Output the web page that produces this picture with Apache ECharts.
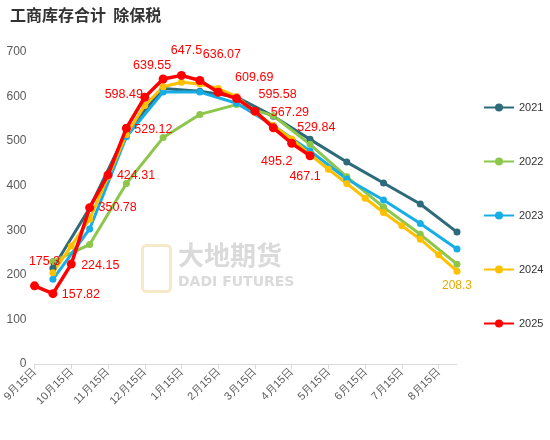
<!DOCTYPE html>
<html>
<head>
<meta charset="utf-8">
<script src="https://cdn.jsdelivr.net/npm/echarts@6/dist/echarts.min.js"></script>
<style>html,body{margin:0;padding:0;background:#fff}#main{width:550px;height:440px}</style>
</head>
<body>
<div id="main"></div>
<script>
// semi-monthly dates: 15th and month end
var categories = ['9月15日','9月30日','10月15日','10月31日','11月15日','11月30日','12月15日','12月31日',
  '1月15日','1月31日','2月15日','2月28日','3月15日','3月31日','4月15日','4月30日',
  '5月15日','5月31日','6月15日','6月30日','7月15日','7月31日','8月15日','8月31日'];
var _ = null;
var s2021 = [_,215,_,350,_,520,_,618,_,612,_,599,_,556,_,504,_,453,_,406,_,359,_,296];
var s2022 = [_,230,_,268,_,405,_,508,_,560,_,582,_,557,_,493,_,420,_,352,_,291,_,224];
var s2023 = [_,190,_,303,_,510,_,610,_,610,_,585,_,535,_,478,_,415,_,368,_,315,_,258];
var s2024 = [_,205,265,325,420,515,580,622,632,628,618,600,565,535,505,470,437,405,372,340,310,280,245,208.3];
var s2025 = [175.3,157.82,224.15,350.78,424.31,529.12,598.49,639.55,647.5,636.07,609.69,595.58,567.29,529.84,495.2,467.1];
// label offsets from point centre (dx, dy)
var labelOff = [[10,-24],[28,1],[29,1],[28,0],[28,1],[27,1],[-21,-3],[-11,-13],[5,-25],[22,-26],[36,-15],[41,-4],[35,1],[43,0],[-15,18],[-5,21]];

var chart = echarts.init(document.getElementById('main'));
function line(name, data, color, extra) {
  var o = {
    name: name, type: 'line', data: data, connectNulls: true,
    symbol: 'circle', symbolSize: 7, showAllSymbol: true,
    lineStyle: {width: 3, color: color}, itemStyle: {color: color}
  };
  for (var k in extra) o[k] = extra[k];
  return o;
}
var redData = s2025.map(function (v, i) {
  return {value: v, label: {show: true, position: 'inside', offset: labelOff[i], color: '#ff0000', fontSize: 12.5}};
});
chart.setOption({
  animation: false,
  title: {text: '工商库存合计  除保税', left: 5, top: 2,
    textStyle: {fontSize: 16, fontWeight: 'bold', color: '#333', fontFamily: 'Noto Sans CJK SC'}},
  graphic: [
    {type: 'text', left: 178, top: 242, style: {text: '大地期货', font: 'bold 26px "Noto Sans CJK SC"', fill: 'rgba(150,150,150,0.35)'}},
    {type: 'text', left: 178, top: 275, style: {text: 'DADI FUTURES', font: 'bold 14px "DejaVu Sans"', fill: 'rgba(150,150,150,0.35)'}},
    {type: 'rect', left: 140, top: 243, shape: {width: 28, height: 46, r: 4}, style: {fill: 'none', stroke: 'rgba(230,200,120,0.4)', lineWidth: 3}}
  ],
  legend: {
    orient: 'vertical', left: 478, top: 97, itemGap: 43, itemWidth: 30, itemHeight: 10,
    textStyle: {fontSize: 11, color: '#333'},
    data: ['2021','2022','2023','2024','2025']
  },
  grid: {left: 34, right: 93, top: 52, bottom: 76},
  xAxis: {
    type: 'category', data: categories, boundaryGap: false,
    axisLine: {lineStyle: {color: '#d9d9d9'}},
    axisTick: {interval: 1, lineStyle: {color: '#d9d9d9'}},
    axisLabel: {interval: 1, rotate: 45, color: '#595959', fontSize: 11, margin: 6}
  },
  yAxis: {
    type: 'value', min: 0, max: 700, interval: 100,
    axisLine: {show: false}, axisTick: {show: false}, splitLine: {show: false},
    axisLabel: {color: '#595959', fontSize: 12}
  },
  series: [
    line('2021', s2021, '#2e6b7a'),
    line('2022', s2022, '#8cc64b'),
    line('2023', s2023, '#17aee8'),
    line('2024', s2024, '#ffc000', {
      label: {show: true, position: 'bottom', color: '#e6a800', fontSize: 12,
        formatter: function (p) { return p.dataIndex === 23 ? p.value : ''; }}
    }),
    line('2025', redData, '#ff0000', {symbolSize: 9, lineStyle: {width: 3.5, color: '#ff0000'}, z: 5})
  ]
});
</script>
</body>
</html>
